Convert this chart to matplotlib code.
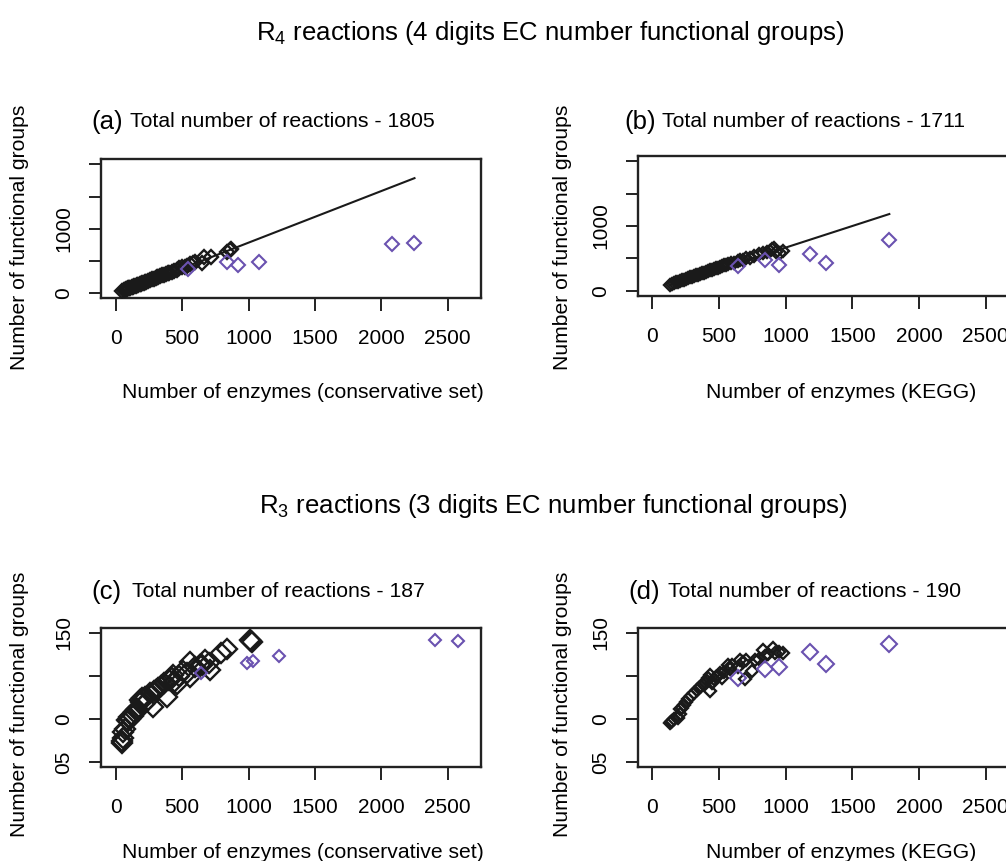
import numpy as np
import matplotlib
matplotlib.use("Agg")
import matplotlib.pyplot as plt

plt.rcParams['font.family'] = ['Liberation Sans', 'DejaVu Sans']

PURPLE = '#6a52b0'

# (a) R4, conservative set
a_black_x = [50, 60, 70, 75, 85, 95, 100, 110, 120, 130, 140, 150, 160, 170, 180, 190, 200, 210, 220, 230,
             245, 260, 270, 285, 300, 310, 320, 335, 350, 360, 375, 390, 400, 420, 440, 460, 480, 500, 520,
             540, 560, 580, 600, 650, 665, 720, 840, 860, 870]
a_black_y = [35, 45, 52, 60, 66, 75, 80, 88, 95, 100, 112, 118, 128, 133, 145, 150, 160, 165, 178, 182,
             195, 205, 218, 225, 240, 245, 258, 265, 280, 285, 300, 310, 318, 335, 350, 365, 385, 400, 415,
             430, 450, 470, 480, 475, 570, 560, 645, 675, 680]
a_purple_x = [542, 838, 918, 1079, 2083, 2246]
a_purple_y = [372, 490, 434, 485, 760, 775]
a_line_x = [50, 2250]
a_line_y = [25, 1785]

# (b) R4, KEGG
b_black_x = [135, 150, 165, 180, 195, 210, 225, 240, 255, 270, 285, 300, 315, 330, 345, 360, 375, 390, 405,
             420, 435, 450, 465, 480, 495, 510, 525, 540, 555, 570, 590, 610, 640, 660, 680, 700, 730, 760,
             800, 830, 860, 880, 900, 910, 930, 960, 980]
b_black_y = [95, 100, 115, 130, 140, 150, 160, 170, 185, 190, 205, 215, 225, 240, 250, 255, 270, 280, 295,
             300, 320, 325, 335, 350, 355, 370, 380, 390, 400, 410, 425, 430, 455, 470, 480, 500, 510, 540,
             560, 580, 600, 610, 640, 665, 600, 590, 610]
b_purple_x = [645, 842, 950, 1180, 1300, 1774]
b_purple_y = [382, 474, 402, 562, 423, 784]
b_line_x = [133, 1777]
b_line_y = [88, 1185]

# (c) R3, conservative set
c_black_x = [45, 50, 55, 57, 70, 83, 90, 100, 110, 120, 133, 140, 150, 160, 170, 183, 190, 200, 210, 220,
             240, 260, 284, 290, 300, 309, 320, 340, 360, 384, 400, 420, 434, 440, 459, 480, 509, 540, 559,
             559, 600, 634, 650, 672, 700, 709, 790, 836, 1010, 1017, 1025]
c_black_y = [22, 25, 28, 35, 38, 49, 48, 52, 50, 55, 53, 58, 60, 62, 60, 72, 70, 74, 68, 75,
             72, 80, 64, 82, 84, 84, 86, 88, 92, 76, 95, 97, 101, 93, 91, 100, 106, 103, 99,
             116, 110, 113, 112, 118, 115, 107, 127, 131, 141, 140, 139]
c_purple_x = [642, 991, 1036, 1227, 2407, 2575]
c_purple_y = [103.7, 114.6, 117.6, 123.4, 141.2, 140.4]

# (d) R3, KEGG
d_black_x = [133, 140, 150, 165, 195, 205, 207, 225, 240, 255, 270, 290, 310, 333, 350, 365, 380, 395, 410,
             420, 432, 432, 445, 460, 475, 490, 507, 520, 540, 569, 580, 600, 640, 660, 682, 695, 700, 745,
             770, 800, 832, 845, 870, 907, 920, 950, 982]
d_black_y = [46, 47, 48, 50, 51, 56, 62, 63, 66, 70, 73, 77, 80, 84, 86, 88, 90, 92, 94,
             98, 101, 82, 92, 96, 99, 100, 103, 98, 105, 113, 108, 112, 110, 118, 116, 96, 118, 106,
             118, 120, 130, 123, 125, 132, 127, 128, 127]
d_purple_x = [640, 842, 950, 1180, 1300, 1774]
d_purple_y = [97.2, 108, 110.3, 127.3, 113.8, 136.6]

x_ticks = [0, 500, 1000, 1500, 2000, 2500]
r4_yticks = [0, 500, 1000, 1500, 2000]
r4_ylabels = ['0', '', '1000', '', '']
r3_yticks = [0, 50, 100, 150]
r3_ylabels = ['05', '0', '', '150']

W, H = 1006, 861
fig = plt.figure(figsize=(W / 100, H / 100), dpi=100)


def ax_at(left, top, right, bottom):
    return fig.add_axes([left / W, 1 - bottom / H, (right - left) / W, (bottom - top) / H])


def style(ax, xlim, ylim, yticks, ylabels):
    ax.set_xlim(*xlim)
    ax.set_ylim(*ylim)
    ax.set_xticks(x_ticks)
    ax.set_xticklabels([str(t) for t in x_ticks], fontsize=15)
    ax.set_yticks(yticks)
    ax.set_yticklabels(ylabels, fontsize=15, rotation=90, va='center')
    ax.tick_params(axis='x', length=9, width=1.4, pad=13, color='#222222')
    ax.tick_params(axis='y', length=9, width=1.4, pad=11, color='#222222')
    for s in ax.spines.values():
        s.set_linewidth(1.7)
        s.set_color('#222222')


panels = [
    # box px, xlim, ylim, data
    ((101, 159, 481, 298), (-111, 2751), (-73, 2082), r4_yticks, r4_ylabels,
     a_black_x, a_black_y, a_purple_x, a_purple_y, (a_line_x, a_line_y), 7.2, 7.6),
    ((638.3, 156, 1018.3, 296), (-105, 2744), (-82, 2082), r4_yticks, r4_ylabels,
     b_black_x, b_black_y, b_purple_x, b_purple_y, (b_line_x, b_line_y), 6.6, 7.6),
    ((101, 628.3, 481, 767.3), (-111, 2751), (-5.8, 155), r3_yticks, r3_ylabels,
     c_black_x, c_black_y, c_purple_x, c_purple_y, None, 10.0, 5.8),
    ((638.3, 628.3, 1018.3, 767.3), (-105, 2744), (-5.8, 155), r3_yticks, r3_ylabels,
     d_black_x, d_black_y, d_purple_x, d_purple_y, None, 6.4, 7.8),
]

for box, xl, yl, yt, ylab, bx, by, px, py, line, bsize, psize in panels:
    ax = ax_at(*box)
    style(ax, xl, yl, yt, ylab)
    ax.plot(bx, by, 'D', ms=bsize, mfc='none', mec='#1a1a1a', mew=1.7, zorder=3)
    ax.plot(px, py, 'D', ms=psize, mfc='none', mec=PURPLE, mew=1.5, zorder=3)
    if line is not None:
        ax.plot(line[0], line[1], color='#1a1a1a', lw=1.5, zorder=2)

# section titles
fig.text(550 / W, 1 - 33 / H, r'R$_{\mathregular{4}}$ reactions (4 digits EC number functional groups)',
         ha='center', va='center', fontsize=18.5)
fig.text(553 / W, 1 - 506 / H, r'R$_{\mathregular{3}}$ reactions (3 digits EC number functional groups)',
         ha='center', va='center', fontsize=18.5)

# panel titles
titles = [('(a)', 'Total number of reactions - 1805', 91, 130, 121.7),
          ('(b)', 'Total number of reactions - 1711', 624, 662, 121.7),
          ('(c)', 'Total number of reactions - 187', 91, 132, 591.7),
          ('(d)', 'Total number of reactions - 190', 628, 668, 591.7)]
for lab, txt, x0, x1, yc in titles:
    fig.text(x0 / W, 1 - yc / H, lab, ha='left', va='center', fontsize=18.5)
    fig.text(x1 / W, 1 - yc / H, txt, ha='left', va='center', fontsize=15.3)

# axis labels
for xc, yc, txt in [(303, 393, 'Number of enzymes (conservative set)'),
                    (841, 393, 'Number of enzymes (KEGG)'),
                    (303, 853, 'Number of enzymes (conservative set)'),
                    (841, 853, 'Number of enzymes (KEGG)')]:
    fig.text(xc / W, 1 - yc / H, txt, ha='center', va='center', fontsize=15.2)

for xc, yc in [(20, 237.5), (562, 237.5), (20, 704), (562, 704)]:
    fig.text(xc / W, 1 - yc / H, 'Number of functional groups', ha='center', va='center',
             rotation=90, fontsize=15.2)

fig.savefig('out.png', dpi=100)
